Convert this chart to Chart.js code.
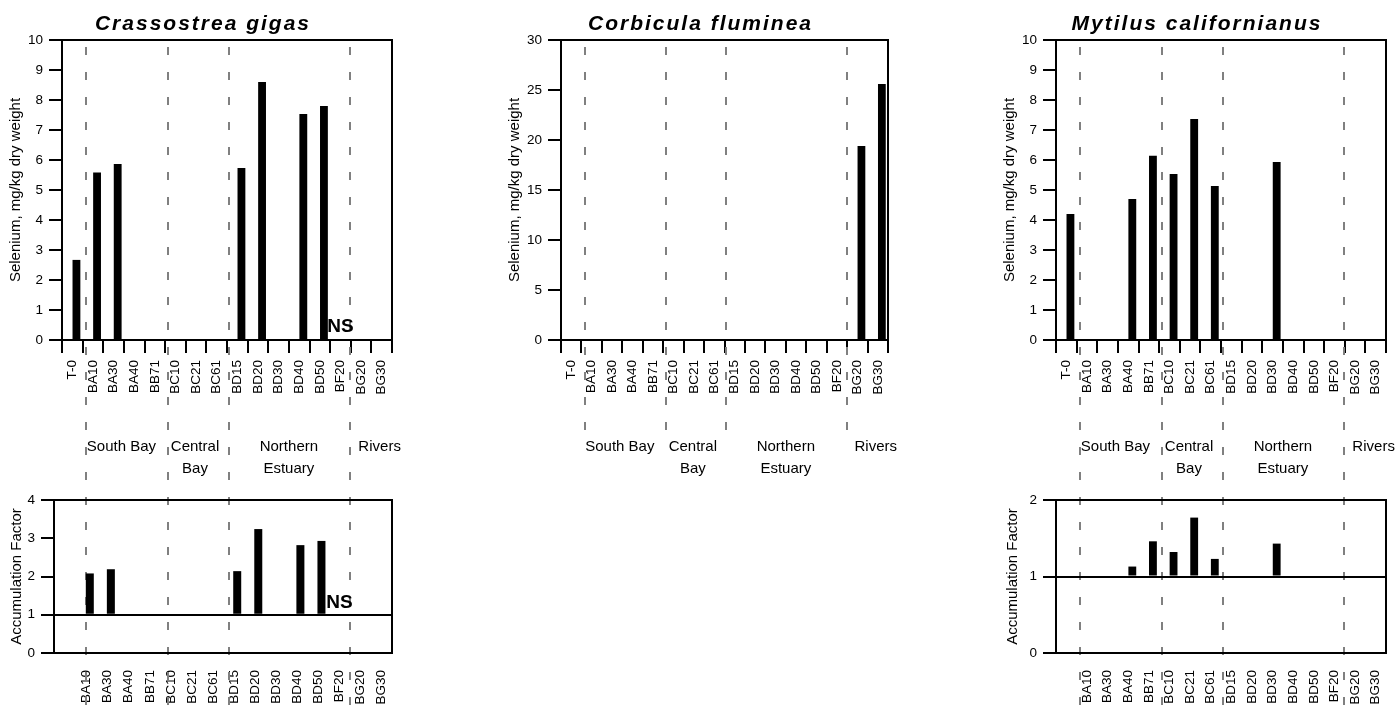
<!DOCTYPE html>
<html>
<head>
<meta charset="utf-8">
<title>Selenium in bivalves</title>
<script src="https://cdn.jsdelivr.net/npm/chart.js@4.4.1/dist/chart.umd.min.js"></script>
<style>
  body { margin: 0; background: #fff; }
  #fig { position: relative; width: 1400px; height: 711px; overflow: hidden; background: #fff; }
  #fig canvas { position: absolute; }
</style>
</head>
<body>
<div id="fig">
  <canvas id="gigasSe" width="414" height="480" style="left:-6px;top:0"></canvas>
  <canvas id="gigasAf" width="414" height="231" style="left:-6px;top:480px"></canvas>
  <canvas id="flumineaSe" width="410" height="480" style="left:495px;top:0"></canvas>
  <canvas id="californianusSe" width="410" height="480" style="left:990px;top:0"></canvas>
  <canvas id="californianusAf" width="410" height="231" style="left:990px;top:480px"></canvas>
</div>
<script>
// stations, in order along the estuary
const sites = ['T-0', 'BA10', 'BA30', 'BA40', 'BB71', 'BC10', 'BC21', 'BC61',
  'BD15', 'BD20', 'BD30', 'BD40', 'BD50', 'BF20', 'BG20', 'BG30'];
// T-0 is the starting tissue, so accumulation factors begin at BA10
const afSites = sites.slice(1);

// selenium in tissue, mg/kg dry weight (null = nothing deployed / recovered)
const gigasSe = [2.67, 5.58, 5.87, null, null, null, null, null, 5.73, 8.6, null, 7.53, 7.8, null, null, null];
const flumineaSe = [null, null, null, null, null, null, null, null, null, null, null, null, null, null, 19.4, 25.6];
const californianusSe = [4.2, null, null, 4.7, 6.14, 5.53, 7.37, 5.13, null, null, 5.93, null, null, null, null, null];

// accumulation factor = station value / T-0 value
const gigasAF = [2.08, 2.19, null, null, null, null, null, 2.14, 3.24, null, 2.82, 2.93, null, null, null];
const californianusAF = [null, null, 1.13, 1.46, 1.32, 1.77, 1.23, null, null, 1.43, null, null, null, null, null];

// regions of the bay and the first station in each
const regionNames = ['South Bay', 'Central\nBay', 'Northern\nEstuary', 'Rivers'];
const regionStarts = ['BA10', 'BC10', 'BD15', 'BG20'];
const notSampled = 'BF20';

// hand placement of the region guides / captions, in station widths
const guideNudge = [0.17, 0.16, 0.08, -0.02];
const captionNudge = [-0.12, -0.05, 0, 0.4];

const FONT = "'Liberation Sans', Arial, Helvetica, sans-serif";
Chart.defaults.font.family = FONT;
Chart.defaults.color = '#000';

const charts = {};

const decor = {
  id: 'decor',
  beforeDatasetsDraw(chart, args, o) {
    // dashed region guides, continued from the upper panel when linked
    const src = o.guideFrom ? charts[o.guideFrom] : chart;
    const ctx = chart.ctx;
    const dy = src.canvas.offsetTop - chart.canvas.offsetTop;
    const y0 = src.chartArea.top + 7 + dy;
    const y1 = o.guideEnd != null ? o.guideEnd - chart.canvas.offsetTop : chart.height;
    ctx.save();
    ctx.strokeStyle = '#808080';
    ctx.lineWidth = 2;
    ctx.setLineDash([8, 17]);
    regionStarts.forEach((s, r) => {
      const gx = Math.round(src.scales.x.getPixelForValue(sites.indexOf(s) - 0.5 + guideNudge[r]));
      ctx.beginPath();
      ctx.moveTo(gx, y0);
      ctx.lineTo(gx, y1);
      ctx.stroke();
    });
    ctx.restore();
  },
  afterDatasetsDraw(chart, args, o) {
    const {ctx, chartArea: a, scales: {x, y}} = chart;
    ctx.save();
    ctx.strokeStyle = '#000';
    ctx.lineWidth = 2;
    ctx.strokeRect(a.left, a.top, a.right - a.left, a.bottom - a.top);
    if (o.baseline != null) {
      const by = Math.round(y.getPixelForValue(o.baseline));
      ctx.beginPath();
      ctx.moveTo(a.left, by);
      ctx.lineTo(a.right, by);
      ctx.stroke();
    }
    ctx.fillStyle = '#000';
    ctx.textAlign = 'center';
    ctx.textBaseline = 'alphabetic';
    if (o.ns) {
      ctx.font = 'bold 19px ' + FONT;
      ctx.fillText('NS', x.getPixelForValue(o.ns.index), y.getPixelForValue(o.ns.at));
    }
    if (o.title) {
      ctx.font = 'italic bold 21px ' + FONT;
      ctx.letterSpacing = '2px';
      ctx.fillText(o.title, (a.left + a.right) / 2 - 24, a.top - 10);
      ctx.letterSpacing = '0px';
    }
    if (o.captions) {
      ctx.font = '15px ' + FONT;
      regionNames.forEach((name, r) => {
        const first = sites.indexOf(regionStarts[r]);
        const last = r + 1 < regionStarts.length ? sites.indexOf(regionStarts[r + 1]) - 1 : sites.length - 1;
        const cx = x.getPixelForValue((first + last) / 2 + captionNudge[r]);
        name.split('\n').forEach((line, k) => ctx.fillText(line, cx, a.bottom + 111 + k * 22));
      });
    }
    ctx.restore();
  }
};

function panel(id, p) {
  const ds = {
    data: p.values.map((v, i) => ({x: i + p.shift, y: v})).filter(d => d.y !== null),
    backgroundColor: '#000',
    borderWidth: 0,
    barPercentage: 0.38,
    categoryPercentage: 1
  };
  if (p.base != null) ds.base = p.base;

  const chart = new Chart(document.getElementById(id), {
    type: 'bar',
    data: {datasets: [ds]},
    options: {
      responsive: false,
      animation: false,
      devicePixelRatio: 1,
      layout: {padding: {top: p.padTop, right: p.padRight, bottom: 0, left: 0}},
      plugins: {
        legend: {display: false},
        tooltip: {enabled: false},
        decor: p.decor
      },
      scales: {
        x: {
          type: 'linear',
          min: p.xMin,
          max: p.xMax,
          offset: false,
          afterBuildTicks: s => { s.ticks = p.labels.map((_, i) => ({value: i})); },
          afterFit: s => { s.height = p.xHeight; },
          ticks: {
            autoSkip: false,
            minRotation: 90,
            maxRotation: 90,
            padding: 7,
            font: {size: 13.5},
            color: '#000',
            callback: v => p.labels[v]
          },
          // upper panels mark station boundaries; lower panels keep the gap but hide the marks
          grid: {
            offset: p.xTicks,
            drawOnChartArea: false,
            drawTicks: true,
            tickLength: p.xTicks ? 13 : 10,
            lineWidth: 2,
            color: p.xTicks ? '#000' : 'rgba(0,0,0,0)'
          },
          border: {color: '#000', width: 2}
        },
        y: {
          min: 0,
          max: p.yMax,
          afterFit: s => { s.width = p.yWidth; },
          ticks: {stepSize: p.yStep, padding: 6, font: {size: 13.5}, color: '#000'},
          grid: {drawOnChartArea: false, tickLength: 13, lineWidth: 2, color: '#000'},
          border: {color: '#000', width: 2},
          title: {
            display: true,
            text: p.yTitle,
            font: {size: 15},
            color: '#000',
            padding: {top: p.yTitlePad, bottom: 0}
          }
        }
      }
    },
    plugins: [decor]
  });
  charts[id] = chart;
  return chart;
}

const seTitle = 'Selenium, mg/kg dry weight';
const afTitle = 'Accumulation Factor';

panel('gigasSe', {
  values: gigasSe, labels: sites, shift: 0.2,
  xMin: -0.5, xMax: 15.5, xTicks: true, xHeight: 140,
  yMax: 10, yStep: 1, yWidth: 68, yTitle: seTitle, yTitlePad: 13,
  padTop: 40, padRight: 16,
  decor: {title: 'Crassostrea gigas', captions: true, ns: {index: sites.indexOf(notSampled), at: 0.28}}
});

panel('gigasAf', {
  values: gigasAF, labels: afSites, shift: 0.15, base: 1,
  xMin: -1.55, xMax: 14.5, xTicks: false, xHeight: 58,
  yMax: 4, yStep: 1, yWidth: 60, yTitle: afTitle, yTitlePad: 14,
  padTop: 20, padRight: 16,
  decor: {guideFrom: 'gigasSe', baseline: 1, ns: {index: afSites.indexOf(notSampled), at: 1.17}}
});

panel('flumineaSe', {
  values: flumineaSe, labels: sites, shift: 0.2,
  xMin: -0.5, xMax: 15.5, xTicks: true, xHeight: 140,
  yMax: 30, yStep: 5, yWidth: 66, yTitle: seTitle, yTitlePad: 11,
  padTop: 40, padRight: 17,
  decor: {title: 'Corbicula fluminea', captions: true, guideEnd: 433}
});

panel('californianusSe', {
  values: californianusSe, labels: sites, shift: 0.2,
  xMin: -0.5, xMax: 15.5, xTicks: true, xHeight: 140,
  yMax: 10, yStep: 1, yWidth: 66, yTitle: seTitle, yTitlePad: 11,
  padTop: 40, padRight: 14,
  decor: {title: 'Mytilus californianus', captions: true}
});

panel('californianusAf', {
  values: californianusAF, labels: afSites, shift: 0.2, base: 1,
  xMin: -1.5, xMax: 14.5, xTicks: false, xHeight: 58,
  yMax: 2, yStep: 1, yWidth: 66, yTitle: afTitle, yTitlePad: 14,
  padTop: 20, padRight: 14,
  decor: {guideFrom: 'californianusSe', baseline: 1}
});
</script>
</body>
</html>
